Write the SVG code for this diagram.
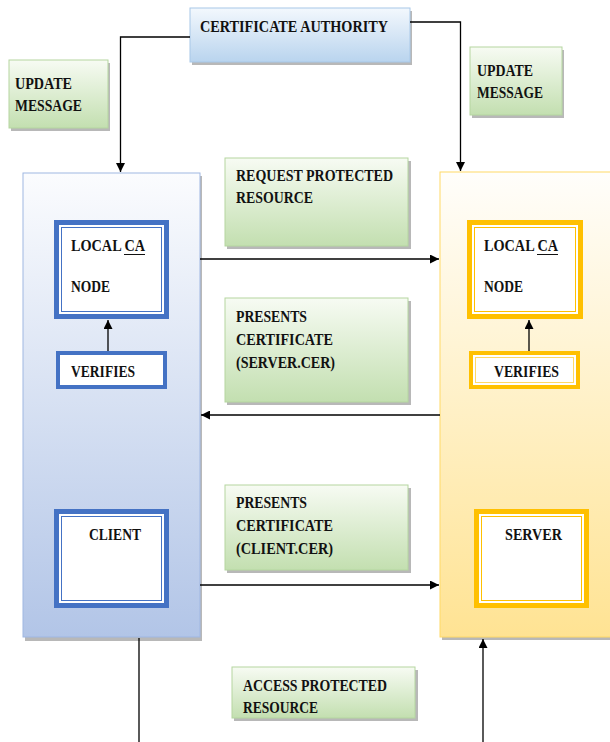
<svg xmlns="http://www.w3.org/2000/svg" width="610" height="742" viewBox="0 0 610 742">
<defs>
<linearGradient id="gGreen" x1="0" y1="0" x2="0" y2="1"><stop offset="0" stop-color="#f7fbf3"/><stop offset="1" stop-color="#c3dfb0"/></linearGradient>
<linearGradient id="gCA" x1="0" y1="0" x2="0" y2="1"><stop offset="0" stop-color="#f3f8fd"/><stop offset="1" stop-color="#b9d4ee"/></linearGradient>
<linearGradient id="gClient" x1="0" y1="0" x2="0" y2="1"><stop offset="0" stop-color="#fbfcfe"/><stop offset="1" stop-color="#b2c5e7"/></linearGradient>
<linearGradient id="gServer" x1="0" y1="0" x2="0" y2="1"><stop offset="0" stop-color="#fffefb"/><stop offset="1" stop-color="#ffe393"/></linearGradient>
<marker id="ah" viewBox="0 0 10 10" refX="10" refY="5" markerWidth="9" markerHeight="9" markerUnits="userSpaceOnUse" orient="auto"><path d="M0,0 L10,5 L0,10 z" fill="#000"/></marker>
</defs>
<style>
text{font-family:"Liberation Serif","Times New Roman",serif;font-weight:bold;font-size:16px;fill:#111}
.sh{fill:#b8b8b8}
.green{fill:url(#gGreen);stroke:#b5d6a0;stroke-width:1}
.conn{fill:none;stroke:#000;stroke-width:1.3}
</style>
<rect width="610" height="742" fill="#fff"/>

<g id="client-panel">
<rect class="sh" x="25" y="176" width="177" height="465"/>
<rect x="23" y="173" width="177" height="464" fill="url(#gClient)" stroke="#9fb7e2" stroke-width="1"/>
</g>
<g id="server-panel">
<rect class="sh" x="442" y="175" width="170" height="465"/>
<rect x="440" y="172" width="172" height="465" fill="url(#gServer)" stroke="#ffd966" stroke-width="1"/>
</g>

<g id="certificate-authority">
<rect class="sh" x="192" y="11" width="220" height="54"/>
<rect x="190" y="8" width="220" height="54" fill="url(#gCA)" stroke="#a8c8e8" stroke-width="1"/>
<text x="200" y="32" textLength="188" lengthAdjust="spacingAndGlyphs">CERTIFICATE AUTHORITY</text>
</g>

<g id="update-message-left">
<rect class="sh" x="11" y="63" width="99" height="68"/>
<rect class="green" x="9" y="60" width="99" height="68"/>
<text x="15" y="89" textLength="57" lengthAdjust="spacingAndGlyphs">UPDATE</text>
<text x="15" y="111" textLength="67" lengthAdjust="spacingAndGlyphs">MESSAGE</text>
</g>
<g id="update-message-right">
<rect class="sh" x="472" y="50" width="92" height="68"/>
<rect class="green" x="470" y="47" width="92" height="68"/>
<text x="477" y="76" textLength="56" lengthAdjust="spacingAndGlyphs">UPDATE</text>
<text x="477" y="98" textLength="66" lengthAdjust="spacingAndGlyphs">MESSAGE</text>
</g>

<g id="request-protected-resource">
<rect class="sh" x="227" y="161" width="184" height="88"/>
<rect class="green" x="225" y="158" width="183" height="88"/>
<text x="236" y="181" textLength="157" lengthAdjust="spacingAndGlyphs">REQUEST PROTECTED</text>
<text x="236" y="203" textLength="77" lengthAdjust="spacingAndGlyphs">RESOURCE</text>
</g>
<g id="presents-server-cer">
<rect class="sh" x="227" y="301" width="184" height="104"/>
<rect class="green" x="225" y="298" width="183" height="104"/>
<text x="236" y="322" textLength="71" lengthAdjust="spacingAndGlyphs">PRESENTS</text>
<text x="236" y="345" textLength="97" lengthAdjust="spacingAndGlyphs">CERTIFICATE</text>
<text x="236" y="368" textLength="99" lengthAdjust="spacingAndGlyphs">(SERVER.CER)</text>
</g>
<g id="presents-client-cer">
<rect class="sh" x="227" y="488" width="184" height="85"/>
<rect class="green" x="225" y="485" width="183" height="85"/>
<text x="236" y="508" textLength="71" lengthAdjust="spacingAndGlyphs">PRESENTS</text>
<text x="236" y="531" textLength="97" lengthAdjust="spacingAndGlyphs">CERTIFICATE</text>
<text x="236" y="554" textLength="97" lengthAdjust="spacingAndGlyphs">(CLIENT.CER)</text>
</g>
<g id="access-protected-resource">
<rect class="sh" x="234" y="670" width="184" height="51"/>
<rect class="green" x="232" y="667" width="183" height="51"/>
<text x="243" y="691" textLength="144" lengthAdjust="spacingAndGlyphs">ACCESS PROTECTED</text>
<text x="243" y="713" textLength="75" lengthAdjust="spacingAndGlyphs">RESOURCE</text>
</g>

<g id="local-ca-left">
<rect x="54" y="220" width="115" height="99" fill="#4472c4"/>
<rect x="59" y="225" width="105" height="89" fill="#fff"/>
<rect x="61.5" y="227.5" width="100" height="84" fill="none" stroke="#4472c4" stroke-width="1"/>
<text x="71" y="251" textLength="74" lengthAdjust="spacingAndGlyphs">LOCAL CA</text>
<line x1="124" y1="254.5" x2="145" y2="254.5" stroke="#111" stroke-width="1"/>
<text x="71" y="292" textLength="39" lengthAdjust="spacingAndGlyphs">NODE</text>
</g>
<g id="verifies-left">
<rect x="56" y="351" width="111" height="38" fill="#4472c4"/>
<rect x="60" y="355" width="103" height="30" fill="#fff"/>
<text x="71" y="377" textLength="64" lengthAdjust="spacingAndGlyphs">VERIFIES</text>
</g>
<g id="client">
<rect x="54" y="509" width="115" height="99" fill="#4472c4"/>
<rect x="59" y="514" width="105" height="89" fill="#fff"/>
<rect x="61.5" y="516.5" width="100" height="84" fill="none" stroke="#4472c4" stroke-width="1"/>
<text x="89" y="540" textLength="52" lengthAdjust="spacingAndGlyphs">CLIENT</text>
</g>

<g id="local-ca-right">
<rect x="467" y="220" width="116" height="99" fill="#ffc000"/>
<rect x="472" y="225" width="106" height="89" fill="#fff"/>
<rect x="474.5" y="227.5" width="101" height="84" fill="none" stroke="#ffc000" stroke-width="1"/>
<text x="484" y="251" textLength="74" lengthAdjust="spacingAndGlyphs">LOCAL CA</text>
<line x1="537" y1="254.5" x2="558" y2="254.5" stroke="#111" stroke-width="1"/>
<text x="484" y="292" textLength="39" lengthAdjust="spacingAndGlyphs">NODE</text>
</g>
<g id="verifies-right">
<rect x="469" y="351" width="111" height="38" fill="#ffc000"/>
<rect x="473" y="355" width="103" height="30" fill="#fff"/>
<rect x="475.5" y="357.5" width="98" height="25" fill="none" stroke="#ffd966" stroke-width="1"/>
<text x="494" y="377" textLength="65" lengthAdjust="spacingAndGlyphs">VERIFIES</text>
</g>
<g id="server">
<rect x="474" y="509" width="115" height="99" fill="#ffc000"/>
<rect x="479" y="514" width="105" height="89" fill="#fff"/>
<rect x="481.5" y="516.5" width="100" height="84" fill="none" stroke="#ffc000" stroke-width="1"/>
<text x="505" y="540" textLength="57" lengthAdjust="spacingAndGlyphs">SERVER</text>
</g>

<g id="connectors">
<path class="conn" d="M190,37 H120.5 V172" marker-end="url(#ah)"/>
<path class="conn" d="M410,22 H460.5 V171" marker-end="url(#ah)"/>
<path class="conn" d="M108,351 V320" marker-end="url(#ah)"/>
<path class="conn" d="M529,351 V320" marker-end="url(#ah)"/>
<path class="conn" d="M200,259 H439" marker-end="url(#ah)"/>
<path class="conn" d="M440,415 H201" marker-end="url(#ah)"/>
<path class="conn" d="M200,585 H439" marker-end="url(#ah)"/>
<path class="conn" d="M139,638 V742"/>
<path class="conn" d="M483,742 V639" marker-end="url(#ah)"/>
</g>
</svg>
